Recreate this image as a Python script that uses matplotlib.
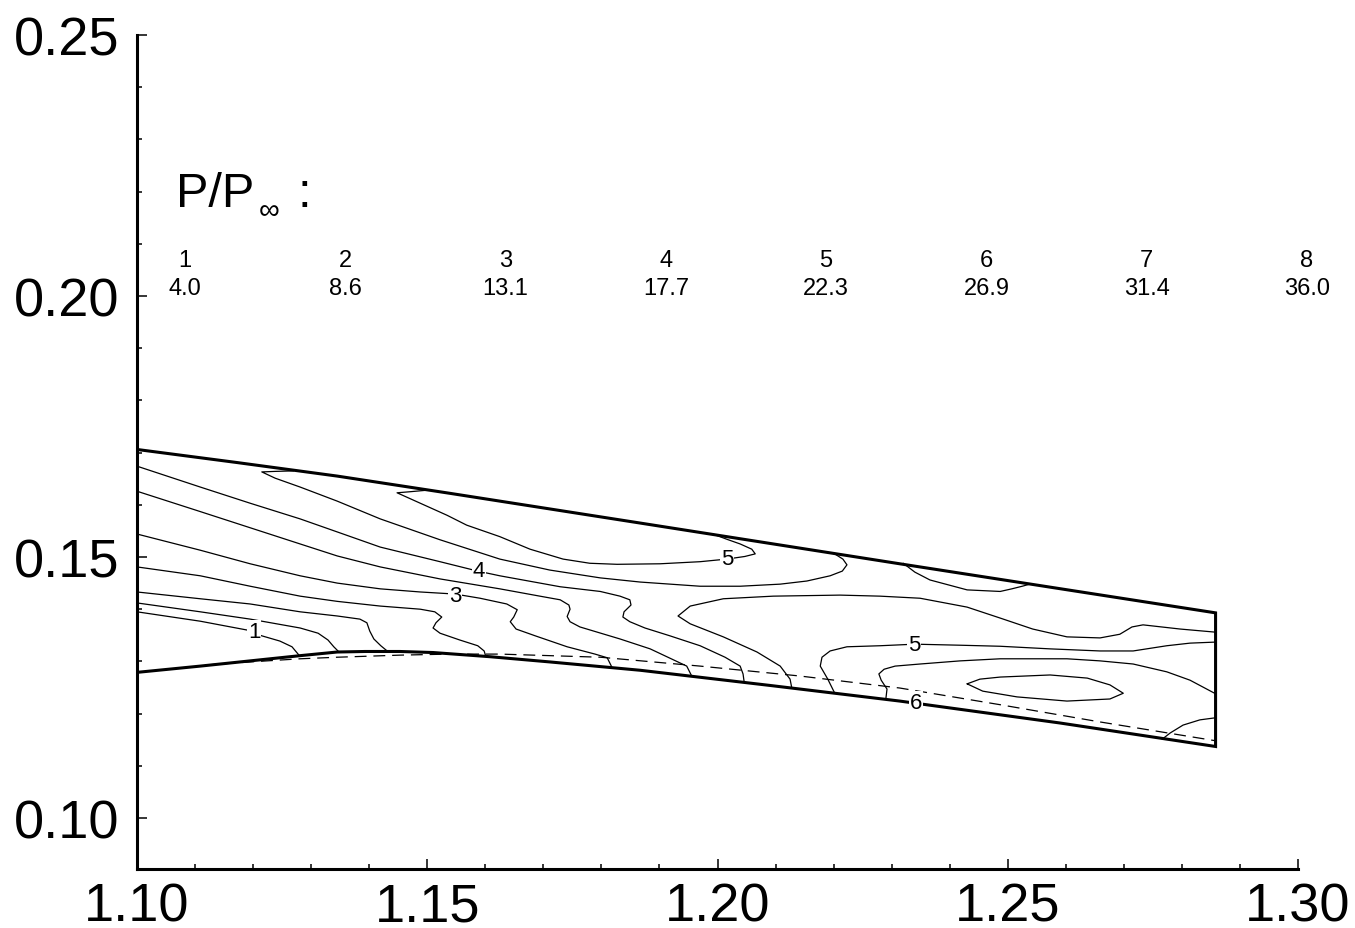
import numpy as np
import matplotlib; matplotlib.use('Agg'); import matplotlib.pyplot as plt
from matplotlib.ticker import MultipleLocator

plt.rcParams['font.family'] = ['Liberation Sans', 'DejaVu Sans']

# walls of the duct
up_x = [1.1000, 1.1172, 1.1345, 1.1539, 1.1867, 1.2314, 1.2858]
up_y = [0.1706, 0.1681, 0.1655, 0.1622, 0.1565, 0.1487, 0.1393]
low_x = [1.1000, 1.1109, 1.1195, 1.1281, 1.1345, 1.1393, 1.1453, 1.1510, 1.1608, 1.1711, 1.1867, 1.2090, 1.2314, 1.2590, 1.2858]
low_y = [0.1279, 0.1291, 0.1301, 0.1311, 0.1318, 0.1319, 0.1319, 0.1317, 0.1309, 0.1299, 0.1283, 0.1254, 0.1224, 0.1182, 0.1137]

# dashed line
sonic_x = [1.1117, 1.1195, 1.1281, 1.1345, 1.1453, 1.1539, 1.1625, 1.1798, 1.1970, 1.2142, 1.2314, 1.2487, 1.2659, 1.2858]
sonic_y = [0.1293, 0.1299, 0.1305, 0.1308, 0.1312, 0.1314, 0.1314, 0.1308, 0.1291, 0.1272, 0.1249, 0.1217, 0.1184, 0.1148]

# isobars
iso1_x = [1.1000, 1.1109, 1.1190, 1.1202, 1.1215, 1.1246, 1.1267, 1.1279]
iso1_y = [0.1395, 0.1377, 0.1360, 0.1354, 0.1349, 0.1339, 0.1328, 0.1312]
isoF_x = [1.1000, 1.1109, 1.1195, 1.1281, 1.1312, 1.1329, 1.1339, 1.1348]
isoF_y = [0.1412, 0.1395, 0.1381, 0.1364, 0.1354, 0.1341, 0.1328, 0.1318]
isoE_x = [1.1000, 1.1109, 1.1195, 1.1281, 1.1345, 1.1384, 1.1396, 1.1401, 1.1408, 1.1420, 1.1432]
isoE_y = [0.1433, 0.1420, 0.1410, 0.1395, 0.1387, 0.1381, 0.1374, 0.1358, 0.1343, 0.1330, 0.1319]
isoD_x = [1.1000, 1.1109, 1.1195, 1.1281, 1.1345, 1.1419, 1.1488, 1.1513, 1.1525, 1.1515, 1.1510, 1.1522, 1.1556, 1.1587, 1.1598, 1.1601]
isoD_y = [0.1481, 0.1464, 0.1444, 0.1425, 0.1415, 0.1406, 0.1400, 0.1395, 0.1385, 0.1374, 0.1364, 0.1354, 0.1341, 0.1330, 0.1320, 0.1309]
iso3_x = [1.1000, 1.1109, 1.1195, 1.1281, 1.1345, 1.1419, 1.1488, 1.1548, 1.1591, 1.1637, 1.1655, 1.1649, 1.1643, 1.1653, 1.1686, 1.1741, 1.1789, 1.1810, 1.1818]
iso3_y = [0.1544, 0.1513, 0.1487, 0.1464, 0.1450, 0.1439, 0.1433, 0.1429, 0.1421, 0.1410, 0.1399, 0.1385, 0.1376, 0.1362, 0.1349, 0.1328, 0.1314, 0.1307, 0.1289]
isoB_x = [1.1000, 1.1109, 1.1195, 1.1281, 1.1345, 1.1419, 1.1522, 1.1625, 1.1694, 1.1729, 1.1744, 1.1746, 1.1741, 1.1746, 1.1763, 1.1832, 1.1884, 1.1947, 1.1956]
isoB_y = [0.1626, 0.1587, 0.1556, 0.1525, 0.1502, 0.1481, 0.1458, 0.1439, 0.1425, 0.1418, 0.1408, 0.1400, 0.1386, 0.1376, 0.1366, 0.1343, 0.1324, 0.1291, 0.1271]
iso4_x = [1.1000, 1.1109, 1.1195, 1.1281, 1.1345, 1.1419, 1.1522, 1.1587, 1.1625, 1.1729, 1.1798, 1.1832, 1.1849, 1.1851, 1.1839, 1.1837, 1.1849, 1.1875, 1.1918, 1.1970, 1.2013, 1.2039, 1.2044, 1.2046]
iso4_y = [0.1674, 0.1634, 0.1603, 0.1573, 0.1548, 0.1519, 0.1491, 0.1473, 0.1464, 0.1443, 0.1434, 0.1425, 0.1418, 0.1408, 0.1395, 0.1385, 0.1376, 0.1364, 0.1349, 0.1330, 0.1308, 0.1291, 0.1276, 0.1260]
loop_x = [1.1270, 1.1238, 1.1215, 1.1238, 1.1281, 1.1345, 1.1419, 1.1522, 1.1625, 1.1711, 1.1798, 1.1867, 1.1970, 1.2039, 1.2108, 1.2154, 1.2194, 1.2215, 1.2223, 1.2216, 1.2199]
loop_y = [0.1665, 0.1664, 0.1663, 0.1651, 0.1634, 0.1607, 0.1573, 0.1533, 0.1496, 0.1475, 0.1460, 0.1452, 0.1444, 0.1444, 0.1448, 0.1454, 0.1464, 0.1473, 0.1485, 0.1496, 0.1508]
iso5a_x = [1.1500, 1.1470, 1.1448, 1.1488, 1.1534, 1.1568, 1.1625, 1.1677, 1.1734, 1.1780, 1.1827, 1.1901, 1.1970, 1.2016, 1.2047, 1.2065, 1.2059, 1.2039, 1.2016, 1.1992]
iso5a_y = [0.1628, 0.1625, 0.1623, 0.1603, 0.1580, 0.1561, 0.1539, 0.1515, 0.1496, 0.1488, 0.1486, 0.1487, 0.1491, 0.1496, 0.1501, 0.1506, 0.1515, 0.1525, 0.1534, 0.1544]
isoS_x = [1.2858, 1.2797, 1.2733, 1.2714, 1.2693, 1.2659, 1.2602, 1.2543, 1.2487, 1.2430, 1.2349, 1.2280, 1.2211, 1.2096, 1.2010, 1.1953, 1.1932, 1.1953, 1.2010, 1.2068, 1.2108, 1.2125, 1.2128]
isoS_y = [0.1356, 0.1362, 0.1370, 0.1366, 0.1352, 0.1345, 0.1347, 0.1362, 0.1383, 0.1404, 0.1421, 0.1425, 0.1427, 0.1425, 0.1420, 0.1406, 0.1387, 0.1372, 0.1347, 0.1318, 0.1291, 0.1266, 0.1249]
isoT_x = [1.2320, 1.2340, 1.2366, 1.2430, 1.2487, 1.2507, 1.2525, 1.2538]
isoT_y = [0.1488, 0.1471, 0.1456, 0.1437, 0.1434, 0.1439, 0.1444, 0.1448]
iso5b_x = [1.2202, 1.2190, 1.2177, 1.2180, 1.2194, 1.2223, 1.2280, 1.2340, 1.2418, 1.2487, 1.2573, 1.2659, 1.2716, 1.2774, 1.2814, 1.2858]
iso5b_y = [0.1239, 0.1266, 0.1291, 0.1308, 0.1320, 0.1328, 0.1330, 0.1333, 0.1331, 0.1329, 0.1324, 0.1320, 0.1320, 0.1330, 0.1335, 0.1337]
iso6_x = [1.2290, 1.2292, 1.2282, 1.2278, 1.2287, 1.2306, 1.2349, 1.2418, 1.2487, 1.2602, 1.2659, 1.2716, 1.2774, 1.2814, 1.2858]
iso6_y = [0.1228, 0.1247, 0.1264, 0.1276, 0.1285, 0.1291, 0.1295, 0.1301, 0.1305, 0.1305, 0.1301, 0.1295, 0.1280, 0.1264, 0.1238]
island_x = [1.2430, 1.2452, 1.2487, 1.2573, 1.2637, 1.2676, 1.2699, 1.2676, 1.2602, 1.2516, 1.2457, 1.2430]
island_y = [0.1257, 0.1266, 0.1270, 0.1274, 0.1268, 0.1255, 0.1239, 0.1228, 0.1224, 0.1232, 0.1243, 0.1257]
corner_x = [1.2766, 1.2780, 1.2802, 1.2831, 1.2858]
corner_y = [0.1151, 0.1163, 0.1178, 0.1188, 0.1192]

# contour labels
lab_text = ['1', '3', '4', '5', '5', '6']
lab_x = [1.1202, 1.1548, 1.1589, 1.2016, 1.2339, 1.2342]
lab_y = [0.1358, 0.1427, 0.1475, 0.1498, 0.1333, 0.1222]

# level table
level_ids = ['1', '2', '3', '4', '5', '6', '7', '8']
level_vals = [4.0, 8.6, 13.1, 17.7, 22.3, 26.9, 31.4, 36.0]

W, H = 1355, 929
fig = plt.figure(figsize=(W / 100, H / 100), dpi=100)
ax = fig.add_axes([137 / W, 1 - 870 / H, (1298 - 137) / W, (870 - 36) / H])
ax.set_xlim(1.10, 1.30); ax.set_ylim(0.09023, 0.25)

ax.plot(up_x + low_x[::-1], up_y + low_y[::-1], color='k', lw=2.2, solid_joinstyle='miter')
ax.plot(sonic_x, sonic_y, color='k', lw=0.9, dashes=(9.5, 5.5))
lines = [(iso1_x, iso1_y), (isoF_x, isoF_y), (isoE_x, isoE_y), (isoD_x, isoD_y), (iso3_x, iso3_y),
         (isoB_x, isoB_y), (iso4_x, iso4_y), (loop_x, loop_y), (iso5a_x, iso5a_y), (isoS_x, isoS_y),
         (isoT_x, isoT_y), (iso5b_x, iso5b_y), (iso6_x, iso6_y), (island_x, island_y), (corner_x, corner_y)]
for lx, ly in lines:
    ax.plot(lx, ly, color='k', lw=0.9, solid_joinstyle='round', solid_capstyle='round')
for t, x, y in zip(lab_text, lab_x, lab_y):
    ax.text(x, y, t, fontsize=16, ha='center', va='center', zorder=5,
            bbox=dict(facecolor='white', edgecolor='none', pad=0.6))

for s in ['top', 'right']:
    ax.spines[s].set_visible(False)
for s in ['left', 'bottom']:
    ax.spines[s].set_linewidth(2.2)
ax.xaxis.set_major_locator(MultipleLocator(0.05)); ax.xaxis.set_minor_locator(MultipleLocator(0.01))
ax.yaxis.set_major_locator(MultipleLocator(0.05)); ax.yaxis.set_minor_locator(MultipleLocator(0.01))
ax.xaxis.set_major_formatter(lambda v, p: f"{v:.2f}")
ax.yaxis.set_major_formatter(lambda v, p: f"{v:.2f}")
ax.tick_params(which='both', direction='in', width=1.1, labelsize=39)
ax.tick_params(which='major', length=7.2)
ax.tick_params(which='minor', length=3.6)
ax.tick_params(axis='x', pad=9)
ax.tick_params(axis='y', pad=13)

# legend header
fig.text(176 / W, 1 - 207 / H, 'P/P', fontsize=35, ha='left', va='baseline')
fig.text(259 / W, 1 - 219 / H, '\u221e', fontsize=21, ha='left', va='baseline')
fig.text(298 / W, 1 - 207 / H, ':', fontsize=35, ha='left', va='baseline')
for xc, lid, val in zip(np.linspace(185, 1307, len(level_ids)), level_ids, level_vals):
    fig.text(xc / W, 1 - 261 / H, lid, fontsize=17, ha='center', va='center')
    fig.text(xc / W, 1 - 289 / H, f"{val:.1f}", fontsize=17, ha='center', va='center')

fig.savefig('out.png', dpi=100)
